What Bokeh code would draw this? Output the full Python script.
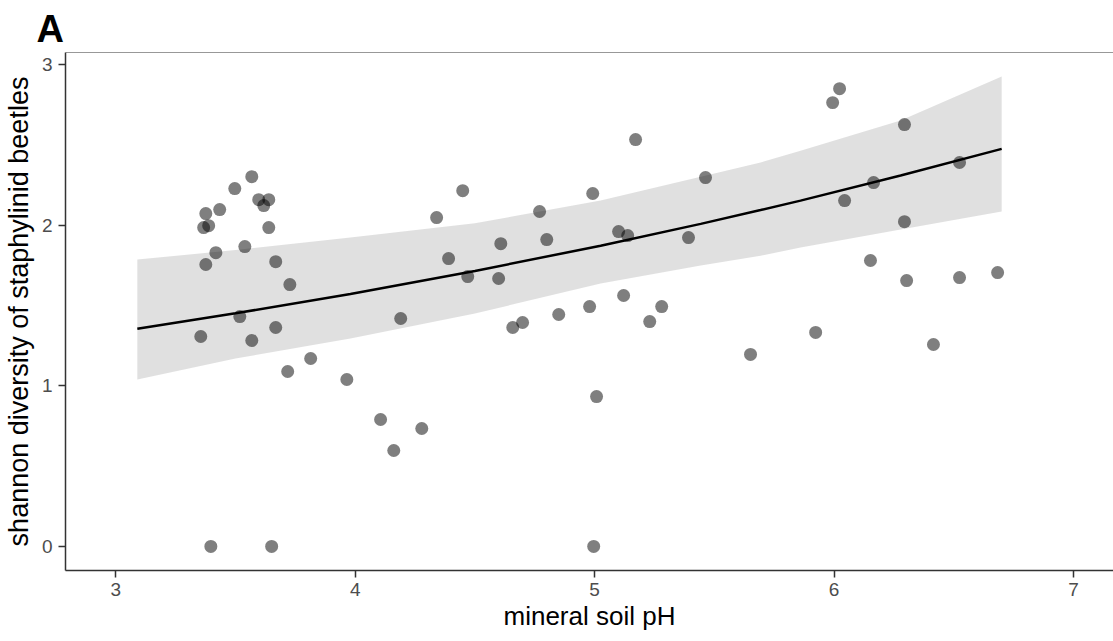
from bokeh.plotting import figure
from bokeh.models import Range1d, FixedTicker, Span, ColumnDataSource
from bokeh.embed import file_html
from bokeh.resources import INLINE

# observed data: mineral soil pH vs shannon diversity of staphylinid beetles
ph = [3.355, 3.376, 3.367, 3.388, 3.376, 3.397, 3.418, 3.434, 3.497, 3.518,
      3.539, 3.568, 3.568, 3.597, 3.618, 3.639, 3.639, 3.651, 3.668, 3.668,
      3.727, 3.718, 3.814, 3.965,
      4.449, 4.992, 4.340, 4.770, 4.608, 4.800, 5.100, 5.138, 4.390, 4.470,
      4.599, 5.121, 4.979, 4.850, 4.699, 4.658, 4.190, 4.106, 4.278, 4.161,
      5.008,
      6.023, 5.994, 5.171, 5.463, 6.165, 6.044, 5.392, 5.280, 5.230, 6.152,
      5.923, 5.651,
      6.294, 6.524, 6.294, 6.303, 6.524, 6.683, 6.415,
      4.996]
shannon = [1.307, 2.072, 1.985, 1.997, 1.755, 0.0, 1.829, 2.097, 2.228, 1.431,
           1.867, 2.302, 1.282, 2.159, 2.122, 2.159, 1.985, 0.0, 1.773, 1.363,
           1.630, 1.089, 1.170, 1.039,
           2.215, 2.197, 2.047, 2.085, 1.885, 1.910, 1.960, 1.935, 1.792, 1.680,
           1.668, 1.562, 1.493, 1.444, 1.394, 1.363, 1.419, 0.790, 0.734, 0.597,
           0.933,
           2.850, 2.763, 2.533, 2.296, 2.265, 2.153, 1.923, 1.493, 1.400, 1.780,
           1.332, 1.195,
           2.626, 2.390, 2.022, 1.655, 1.674, 1.705, 1.257,
           0.0]

# fitted curve and confidence band
fit_x = [3.09, 3.50, 3.98, 4.50, 5.025, 5.443, 5.693, 5.86, 6.278, 6.70]
fit_y = [1.355, 1.451, 1.572, 1.715, 1.872, 2.008, 2.094, 2.153, 2.309, 2.475]
fit_lower = [1.039, 1.170, 1.294, 1.450, 1.637, 1.749, 1.810, 1.861, 1.973, 2.085]
fit_upper = [1.786, 1.845, 1.923, 2.012, 2.153, 2.302, 2.390, 2.464, 2.651, 2.925]

x_ticks = [3, 4, 5, 6, 7]
y_ticks = [0, 1, 2, 3]

FONT = "Liberation Sans"
X0, X1, Y0, Y1 = 2.79, 7.167, -0.15, 3.075

p = figure(width=1113, height=641, output_backend="svg", toolbar_location=None,
           x_range=Range1d(X0, X1), y_range=Range1d(Y0, Y1),
           min_border_left=65, min_border_right=0, min_border_top=52,
           min_border_bottom=71)
p.background_fill_color = "white"
p.border_fill_color = "white"
p.outline_line_color = None
p.grid.visible = False

p.title.text = "A"
p.title.text_font = FONT
p.title.text_font_size = "38px"
p.title.text_font_style = "bold"
p.title.text_color = "black"
p.title.align = "left"
p.title.offset = -29
p.title.standoff = 6

band_src = ColumnDataSource(dict(x=fit_x, lo=fit_lower, hi=fit_upper))
p.varea(x="x", y1="lo", y2="hi", source=band_src, fill_color="#999999", fill_alpha=0.3)

p.scatter(ph, shannon, size=13, fill_color="black", fill_alpha=0.5, line_color=None)

p.line(fit_x, fit_y, line_color="black", line_width=2.5)

p.add_layout(Span(location=Y1, dimension="width", line_color="#333333", line_width=1))

for ax in (p.xaxis[0], p.yaxis[0]):
    ax.axis_line_color = "#333333"
    ax.axis_line_width = 1.5
    ax.major_tick_line_color = "#333333"
    ax.major_tick_line_width = 1.5
    ax.major_tick_out = 7
    ax.major_tick_in = 0
    ax.minor_tick_line_color = None
    ax.major_label_text_font = FONT
    ax.major_label_text_font_size = "19px"
    ax.major_label_text_color = "#4D4D4D"
    ax.axis_label_text_font = FONT
    ax.axis_label_text_font_style = "normal"
    ax.axis_label_text_color = "black"

p.xaxis[0].axis_label_text_font_size = "26px"
p.yaxis[0].axis_label_text_font_size = "27px"
p.xaxis[0].ticker = FixedTicker(ticks=x_ticks)
p.yaxis[0].ticker = FixedTicker(ticks=y_ticks)
p.xaxis[0].axis_label = "mineral soil pH"
p.yaxis[0].axis_label = "shannon diversity of staphylinid beetles"
p.xaxis[0].major_label_standoff = 5
p.yaxis[0].major_label_standoff = 6
p.xaxis[0].axis_label_standoff = 2
p.yaxis[0].axis_label_standoff = 5

open("out.html", "w").write(file_html(p, INLINE))
